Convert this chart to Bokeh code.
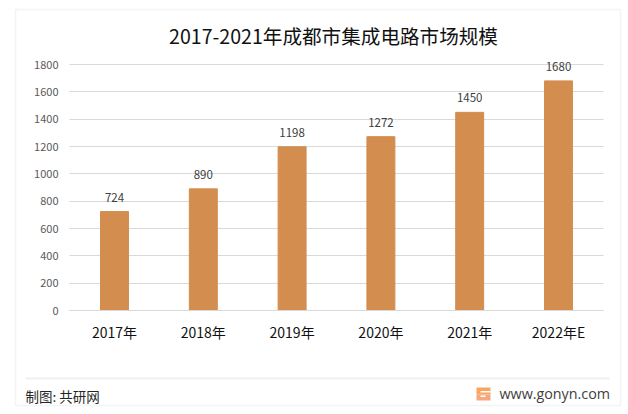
from bokeh.core.properties import value
from bokeh.embed import file_html
from bokeh.models import BoxAnnotation, ColumnDataSource, FixedTicker, Label, LabelSet, Range1d
from bokeh.plotting import figure
from bokeh.resources import INLINE

years = ["2017年", "2018年", "2019年", "2020年", "2021年", "2022年E"]
sizes = [724, 890, 1198, 1272, 1450, 1680]
y_ticks = [0, 200, 400, 600, 800, 1000, 1200, 1400, 1600, 1800]
x_pos = [0, 1, 2, 3, 4, 5]

FONT = "Noto Sans CJK SC"
W, H = 628, 414

# annotations get clipped to the frame, so the frame fills the whole page
# and the axes sit inside it at fixed locations
PX_X = 88.8                  # pixels per category
PX_Y = 246.0 / 1800          # pixels per unit
X0, Y0 = 114.0, 310.0        # pixel of first category, pixel of value 0
x_left = (69 - X0) / PX_X
x_right = (603 - X0) / PX_X

source = ColumnDataSource(data=dict(x=x_pos, size=sizes, label=[str(v) for v in sizes]))

p = figure(x_range=Range1d(-X0 / PX_X, (W - X0) / PX_X),
           y_range=Range1d(-(H - Y0) / PX_Y, Y0 / PX_Y),
           width=W, height=H,
           min_border_left=0, min_border_right=0, min_border_top=0, min_border_bottom=0,
           output_backend="svg", toolbar_location=None)
p.outline_line_color = None


def box(left, right, top, bottom, **kw):
    # top and bottom in page pixels, measured from the top
    p.add_layout(BoxAnnotation(left=left, right=right, top=H - top, bottom=H - bottom,
                               left_units="screen", right_units="screen", top_units="screen", bottom_units="screen",
                               **kw))


def text(x, y, s, **kw):
    p.add_layout(Label(x=x, y=H - y, x_units="screen", y_units="screen", text=s, text_baseline="middle", **kw))


box(15, 620, 9, 405, fill_alpha=0, line_color="#d9d9d9", line_width=1.5)
box(25, 609, 377, 379, fill_color="#f0f0f0", fill_alpha=1, line_alpha=0)

# logo
box(476, 490, 387, 394, fill_color="#F9A65F", fill_alpha=1, line_alpha=0)
box(476, 490, 394, 400, fill_color="#F6A77C", fill_alpha=1, line_alpha=0)
box(480, 490, 390.5, 392, fill_color="white", fill_alpha=1, line_alpha=0)
box(480, 485, 395, 396.5, fill_color="white", fill_alpha=1, line_alpha=0)

text(333, 34.5, "2017-2021年成都市集成电路市场规模", text_align="center",
     text_font=FONT, text_font_size="19.6px", text_color="#111111")
text(25, 395, "制图: 共研网", text_font=FONT, text_font_size="13.5px", text_color="#262626")
text(499, 393, "www.gonyn.com", text_font="Open Sans", text_font_size="14.3px", text_color="#404040")

p.vbar(x="x", top="size", width=0.315, color="#D38D4F", source=source)

p.add_layout(LabelSet(x="x", y="size", text="label", source=source,
                      x_offset=0, y_offset=10, text_align="center",
                      text_font=value(FONT), text_font_size="11.5px", text_color="#404040"))

p.xgrid.grid_line_color = None
p.ygrid.grid_line_color = "#d9d9d9"
p.ygrid.grid_line_width = 1
p.ygrid.ticker = FixedTicker(ticks=y_ticks)
p.ygrid.cross_bounds = (x_left, x_right)

p.yaxis.fixed_location = x_left
p.yaxis.ticker = FixedTicker(ticks=y_ticks)
p.yaxis.axis_line_color = None
p.yaxis.major_tick_line_color = None
p.yaxis.minor_tick_line_color = None
p.yaxis.major_label_text_font = FONT
p.yaxis.major_label_text_font_size = "11px"
p.yaxis.major_label_text_color = "#595959"
p.yaxis.major_label_standoff = 5

p.xaxis.fixed_location = 0
p.xaxis.bounds = (x_left, x_right)
p.xaxis.ticker = FixedTicker(ticks=x_pos)
p.xaxis.major_label_overrides = dict(zip(x_pos, years))
p.xaxis.axis_line_color = "#d9d9d9"
p.xaxis.major_tick_line_color = None
p.xaxis.minor_tick_line_color = None
p.xaxis.major_label_text_font = FONT
p.xaxis.major_label_text_font_size = "14px"
p.xaxis.major_label_text_color = "#111111"
p.xaxis.major_label_standoff = 5
p.xaxis.major_label_orientation = "horizontal"

open("out.html", "w").write(file_html(p, INLINE))
